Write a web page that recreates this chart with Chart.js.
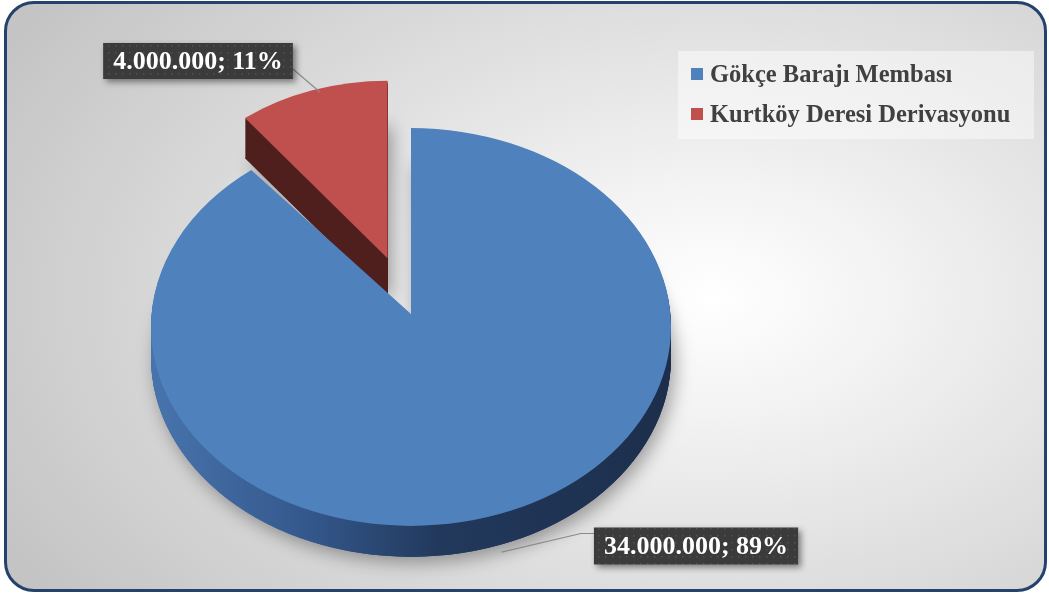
<!DOCTYPE html>
<html>
<head>
<meta charset="utf-8">
<script src="https://cdn.jsdelivr.net/npm/chart.js@4/dist/chart.umd.min.js"></script>
<style>
    html, body { margin: 0; padding: 0; width: 1049px; height: 597px; overflow: hidden; background: #fff; }
    #frame {
        position: absolute; left: 4px; top: 1px; width: 1037px; height: 585px;
        border: 3px solid #24426b; border-radius: 30px;
        background: radial-gradient(ellipse 78% 88% at 68% 50%, #ffffff 0%, #f3f3f3 22%, #c4c4c4 100%);
    }
    #chart { position: absolute; left: 0; top: 0; }
    #legend {
        position: absolute; left: 678px; top: 51px; width: 356px; height: 88px;
        background: rgba(255,255,255,0.45);
        font: bold 24.5px "Liberation Serif", serif; color: #404040;
    }
    .item { position: absolute; left: 13px; height: 28px; display: flex; align-items: center; white-space: nowrap; }
    .sw { width: 12px; height: 12px; margin-right: 7px; }
</style>
</head>
<body>
<div id="frame"></div>
<canvas id="chart" width="1049" height="597"></canvas>
<div id="legend"></div>
<script>
const LABELS = ['Gökçe Barajı Membası', 'Kurtköy Deresi Derivasyonu'];
const VALUES = [34000000, 4000000];
const TOP_COLORS = ['#4f81bd', '#c0504d'];

// 3d look (perspective approximated: apex of the big slice sits a bit above the ellipse centre)
const TILT = 0.765;
const DEPTHS = [31, 40];
const APEX_LIFT = [13, 0];
const EXPLODE = { index: 1, distance: 93, radius: 232, turn: 0.075 };
const LABEL_BOXES = [
    { cx: 696, cy: 546, h: 37 },
    { cx: 198, cy: 61, h: 36 },
];

function formatValue(v) {
    const total = VALUES.reduce((a, b) => a + b, 0);
    const num = String(v).replace(/\B(?=(\d{3})+(?!\d))/g, '.');
    return num + '; ' + Math.round(v / total * 100) + '%';
}

function sliceGeom(arc, i) {
    const mid = (arc.startAngle + arc.endAngle) / 2;
    const exploded = i === EXPLODE.index;
    const ex = exploded ? EXPLODE.distance : 0;
    const dir = exploded ? mid + EXPLODE.turn : mid;
    const r = exploded ? EXPLODE.radius : arc.outerRadius;
    return {
        cx: arc.x + Math.cos(dir) * ex,
        cy: arc.y + Math.sin(dir) * ex * TILT,
        r, mid,
    };
}

function slicePath(ctx, arc, i, dy) {
    const g = sliceGeom(arc, i);
    ctx.beginPath();
    ctx.moveTo(g.cx, g.cy + dy - APEX_LIFT[i]);
    ctx.ellipse(g.cx, g.cy + dy, g.r, g.r * TILT, 0, arc.startAngle, arc.endAngle);
    ctx.closePath();
}

const pie3d = {
    id: 'pie3d',
    beforeDatasetsDraw(chart) {
        const ctx = chart.ctx;
        const arcs = chart.getDatasetMeta(0).data;
        const a0 = arcs[0];
        const blueSide = ctx.createLinearGradient(a0.x - a0.outerRadius, 0, a0.x + a0.outerRadius, 0);
        blueSide.addColorStop(0, '#4874ad');
        blueSide.addColorStop(0.3, '#34588c');
        blueSide.addColorStop(0.55, '#22395d');
        blueSide.addColorStop(1, '#1c2e4b');
        const sides = [blueSide, '#4f1f1e'];
        const order = [1, 0];

        ctx.save();
        order.forEach((i) => {
            ctx.save();
            ctx.shadowColor = 'rgba(0,0,0,0.35)';
            ctx.shadowBlur = 18;
            ctx.shadowOffsetX = 4;
            ctx.shadowOffsetY = 6;
            ctx.fillStyle = sides[i];
            slicePath(ctx, arcs[i], i, DEPTHS[i]);
            ctx.fill();
            ctx.restore();
        });
        order.forEach((i) => {
            ctx.fillStyle = sides[i];
            for (let d = DEPTHS[i]; d >= 1; d--) {
                slicePath(ctx, arcs[i], i, d);
                ctx.fill();
            }
        });
        order.forEach((i) => {
            ctx.fillStyle = arcs[i].options.backgroundColor;
            slicePath(ctx, arcs[i], i, 0);
            ctx.fill();
        });
        ctx.restore();
        return false;
    },
    afterDraw(chart) {
        const ctx = chart.ctx;
        const arcs = chart.getDatasetMeta(0).data;
        const pc = document.createElement('canvas');
        pc.width = pc.height = 7;
        const pg = pc.getContext('2d');
        pg.fillStyle = '#3b3b3b';
        pg.fillRect(0, 0, 7, 7);
        pg.fillStyle = '#535353';
        pg.fillRect(3, 3, 1.5, 1.5);
        const pattern = ctx.createPattern(pc, 'repeat');

        ctx.save();
        ctx.font = 'bold 26px "Liberation Serif", serif';
        arcs.forEach((arc, i) => {
            const g = sliceGeom(arc, i);
            const box = LABEL_BOXES[i];
            const text = formatValue(VALUES[i]);
            const w = ctx.measureText(text).width + 20;
            const x0 = box.cx - w / 2, y0 = box.cy - box.h / 2;

            // leader line
            const ax = g.cx + Math.cos(g.mid) * g.r;
            let ay = g.cy + Math.sin(g.mid) * g.r * TILT;
            ctx.strokeStyle = '#8a8a8a';
            ctx.lineWidth = 1.2;
            ctx.beginPath();
            if (Math.sin(g.mid) > 0) {
                ay += DEPTHS[i] + 2;
                ctx.moveTo(x0, y0 + 6);
                ctx.lineTo(x0 - 13, y0 + 6);
                ctx.lineTo(ax + 6, ay + 4);
            } else {
                ctx.moveTo(x0 + w, y0 + box.h - 10);
                ctx.lineTo(ax + 8, ay + 2);
            }
            ctx.stroke();

            ctx.save();
            ctx.shadowColor = 'rgba(0,0,0,0.45)';
            ctx.shadowBlur = 6;
            ctx.shadowOffsetX = 3;
            ctx.shadowOffsetY = 3;
            ctx.fillStyle = pattern;
            ctx.fillRect(x0, y0, w, box.h);
            ctx.restore();

            ctx.fillStyle = '#ffffff';
            ctx.textAlign = 'center';
            ctx.textBaseline = 'middle';
            ctx.fillText(text, box.cx, box.cy + 1);
        });
        ctx.restore();
    },
};

new Chart(document.getElementById('chart'), {
    type: 'pie',
    data: {
        labels: LABELS,
        datasets: [{
            data: VALUES,
            backgroundColor: TOP_COLORS,
            borderWidth: 0,
        }],
    },
    options: {
        responsive: false,
        animation: false,
        layout: { padding: { left: 151, top: 67, right: 378, bottom: 10 } },
        plugins: {
            legend: { display: false },
            tooltip: { enabled: false },
        },
    },
    plugins: [pie3d],
});

const legendEl = document.getElementById('legend');
LABELS.forEach((label, i) => {
    const item = document.createElement('div');
    item.className = 'item';
    item.style.top = (9 + i * 40) + 'px';
    item.innerHTML = '<span class="sw" style="background:' + TOP_COLORS[i] + '"></span>' + label;
    legendEl.appendChild(item);
});
</script>
</body>
</html>
